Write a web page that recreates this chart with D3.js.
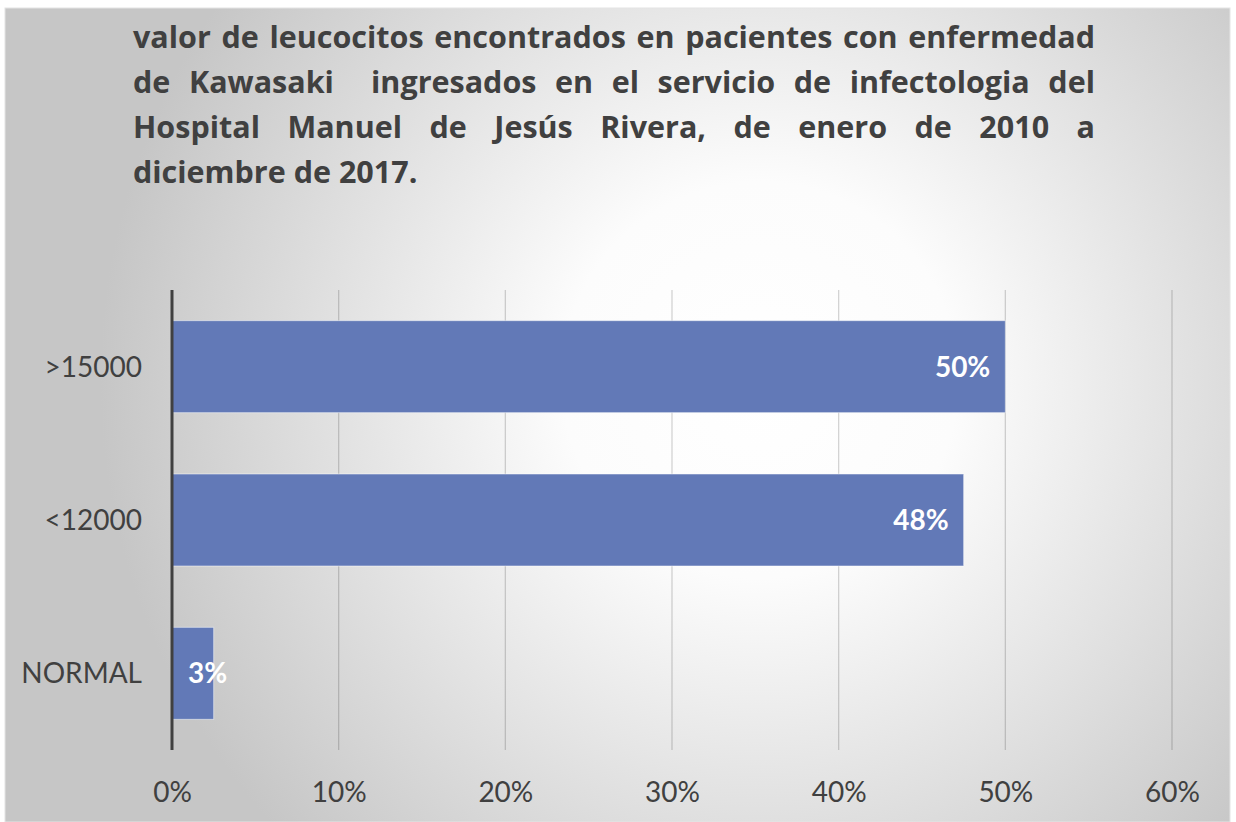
<!DOCTYPE html>
<html>
<head>
<meta charset="utf-8">
<script src="https://cdn.jsdelivr.net/npm/d3@7"></script>
<style>
  html, body { margin: 0; padding: 0; background: #ffffff; }
  svg { display: block; }
</style>
</head>
<body>
<svg id="chart" width="1236" height="822"></svg>
<script>
// Leucocyte count groups and share of patients in each
const categories = [">15000", "<12000", "NORMAL"];
const values = [0.50, 0.475, 0.025];
const tickValues = [0, 0.1, 0.2, 0.3, 0.4, 0.5, 0.6];
const titleLines = [
  "valor de leucocitos encontrados en pacientes con enfermedad",
  "de Kawasaki  ingresados en el servicio de infectologia del",
  "Hospital Manuel de Jesús Rivera, de enero de 2010 a",
  "diciembre de 2017."
];

const svg = d3.select("#chart");
const W = 1236, H = 822;
const FONT = "Lato, 'Open Sans', sans-serif";
const TITLE_FONT = "'Open Sans', Lato, sans-serif";

// Background panel with soft radial shading
const defs = svg.append("defs");
const grad = defs.append("radialGradient")
  .attr("id", "bg")
  .attr("gradientUnits", "userSpaceOnUse")
  .attr("cx", 760).attr("cy", 380).attr("r", 660)
  .attr("fx", 760).attr("fy", 380);
grad.append("stop").attr("offset", "0").attr("stop-color", "#ffffff");
grad.append("stop").attr("offset", "0.3").attr("stop-color", "#fcfcfc");
grad.append("stop").attr("offset", "1").attr("stop-color", "#c6c6c6");

svg.append("rect")
  .attr("x", 5).attr("y", 8).attr("width", 1225).attr("height", H - 8)
  .attr("fill", "url(#bg)")
  .attr("stroke", "#e4e4e4").attr("stroke-width", 1);

// Scales
const x = d3.scaleLinear().domain([0, 0.6]).range([172, 1172]);
const y = d3.scaleBand().domain(categories).range([290, 750])
  .paddingInner(0.4).paddingOuter(0.2);
const pct = d3.format(".0%");

// Vertical gridlines
svg.append("g")
  .selectAll("line")
  .data(tickValues.slice(1))
  .join("line")
  .attr("x1", d => x(d)).attr("x2", d => x(d))
  .attr("y1", 290).attr("y2", 750)
  .attr("stroke", "#000").attr("stroke-opacity", 0.17).attr("stroke-width", 1.3);

// Bars
svg.append("g")
  .selectAll("rect")
  .data(categories)
  .join("rect")
  .attr("x", x(0))
  .attr("y", d => y(d))
  .attr("width", (d, i) => x(values[i]) - x(0))
  .attr("height", y.bandwidth())
  .attr("fill", "#6279b7")
  .attr("stroke", "#ffffff").attr("stroke-opacity", 0.5).attr("stroke-width", 1);

// Category axis line
svg.append("line")
  .attr("x1", x(0)).attr("x2", x(0))
  .attr("y1", 290).attr("y2", 750)
  .attr("stroke", "#404040").attr("stroke-width", 3);

// Bottom axis tick labels
const xAxis = d3.axisBottom(x).tickValues(tickValues).tickFormat(pct).tickSize(0).tickPadding(0);
const gx = svg.append("g").attr("transform", "translate(0,802)").call(xAxis);
gx.select(".domain").remove();
gx.selectAll("text")
  .attr("dy", 0).attr("y", 0)
  .attr("font-family", FONT).attr("font-size", 28).attr("fill", "#404040");

// Left category labels
const yAxis = d3.axisLeft(y).tickSize(0).tickPadding(0);
const gy = svg.append("g").attr("transform", "translate(142,0)").call(yAxis);
gy.select(".domain").remove();
gy.selectAll("text")
  .attr("x", 0).attr("dy", "0.36em")
  .attr("font-family", FONT).attr("font-size", 28).attr("fill", "#404040");

// Value labels inside the bars
const lab = svg.append("g")
  .selectAll("text")
  .data(categories)
  .join("text")
  .attr("y", d => y(d) + y.bandwidth() / 2)
  .attr("dy", "0.36em")
  .attr("font-family", FONT).attr("font-weight", 700).attr("font-size", 28)
  .attr("fill", "#ffffff")
  .text((d, i) => pct(values[i]));
lab.each(function(d, i) {
  const t = d3.select(this);
  const w = this.getComputedTextLength();
  const end = x(values[i]) - 15;
  if (end - w < x(0) + 16) {
    t.attr("x", x(0) + 16).attr("text-anchor", "start");
  } else {
    t.attr("x", end).attr("text-anchor", "end");
  }
});

// Title, justified between its left and right margins
const tLeft = 133, tRight = 1095, baselines = [48, 93, 138, 183];
const title = svg.append("g")
  .attr("font-family", TITLE_FONT).attr("font-weight", 700).attr("font-size", 30.5)
  .attr("fill", "#404040");
const spaceW = (() => {
  const t = title.append("text").text("a a");
  const t2 = title.append("text").text("aa");
  const s = t.node().getComputedTextLength() - t2.node().getComputedTextLength();
  t.remove(); t2.remove();
  return s;
})();
titleLines.forEach((line, li) => {
  const words = line.split(" ");
  const nodes = words.map(w => title.append("text").attr("y", baselines[li]).text(w));
  const widths = nodes.map(n => n.node().getComputedTextLength());
  const gaps = words.length - 1;
  const total = d3.sum(widths);
  const justify = li < titleLines.length - 1;
  const gap = justify ? (tRight - tLeft - total) / gaps : spaceW;
  let cx = tLeft;
  nodes.forEach((n, k) => {
    n.attr("x", cx);
    cx += widths[k] + gap;
  });
});
</script>
</body>
</html>
